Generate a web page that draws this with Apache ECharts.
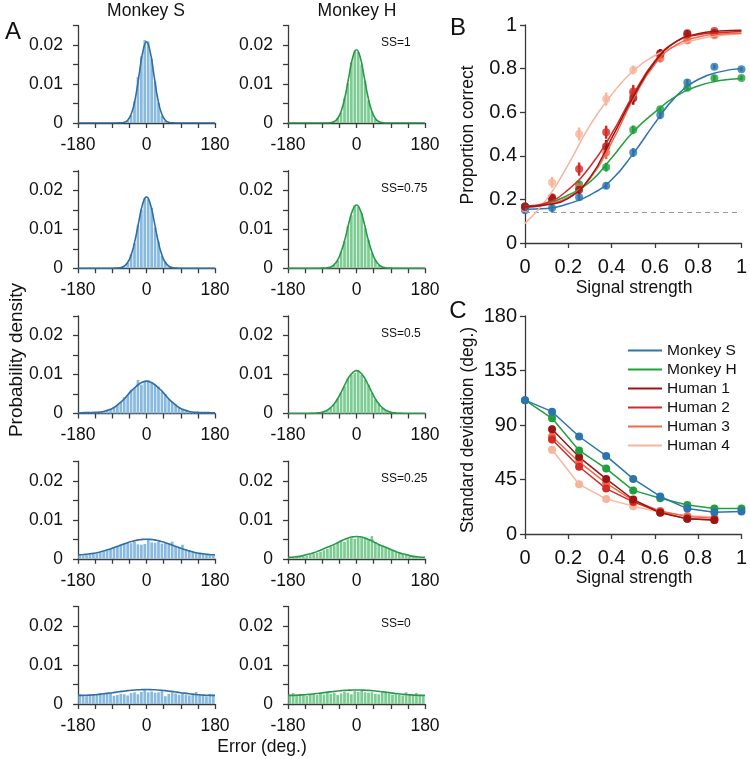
<!DOCTYPE html>
<html><head><meta charset="utf-8">
<script src="https://cdn.jsdelivr.net/npm/echarts@6/dist/echarts.min.js"></script>
<style>html,body{margin:0;padding:0;background:#fff}#c{width:750px;height:759px}</style>
</head><body><div id="c"></div>
<script>
// ---------- Panel A data ----------
const binCenters = [-175.5,-166.5,-157.5,-148.5,-139.5,-130.5,-121.5,-112.5,-103.5,-94.5,-85.5,-76.5,-67.5,-58.5,-49.5,-40.5,-31.5,-22.5,-13.5,-4.5,4.5,13.5,22.5,31.5,40.5,49.5,58.5,67.5,76.5,85.5,94.5,103.5,112.5,121.5,130.5,139.5,148.5,157.5,166.5,175.5];
const curveX = [-180,-170,-160,-150,-140,-130,-120,-110,-100,-90,-80,-70,-60,-50,-40,-30,-20,-10,0,10,20,30,40,50,60,70,80,90,100,110,120,130,140,150,160,170,180];
const xTickLabels = ['-180','0','180'];
const yTickLabels = ['0','0.01','0.02'];
const ssLabels = ['SS=1','SS=0.75','SS=0.5','SS=0.25','SS=0'];

const histS1 = [0,0,0,0,0,0,0,0,0,0, 0,0,0,0.0002,0.0007,0.0020,0.0056,0.0118,0.0171,0.0213, 0.0209,0.0165,0.0106,0.0052,0.0019,0.0006,0.0002,0,0,0, 0,0,0,0,0,0,0,0,0,0];
const histH1 = [0,0,0,0,0,0,0,0,0,0, 0,0,0.0001,0.0004,0.0013,0.0027,0.0063,0.0102,0.0156,0.0186, 0.0182,0.0150,0.0108,0.0058,0.0030,0.0011,0.0004,0.0001,0,0, 0,0,0,0,0,0,0,0,0,0];
const histS2 = [0,0,0,0,0,0,0,0,0,0, 0,0,0.0002,0.0005,0.0014,0.0036,0.0064,0.0110,0.0150,0.0181, 0.0177,0.0155,0.0104,0.0068,0.0032,0.0016,0.0005,0.0002,0,0, 0,0,0,0,0,0,0,0,0,0];
const histH2 = [0,0,0,0,0,0,0,0,0,0, 0,0.0001,0.0003,0.0010,0.0020,0.0043,0.0069,0.0108,0.0136,0.0161, 0.0157,0.0141,0.0103,0.0073,0.0040,0.0022,0.0008,0.0004,0.0001,0, 0,0,0,0,0,0,0,0,0,0];
const histS3 = [0.0002,0.0001,0.0003,0.0002,0.0004,0.0003,0.0005,0.0006,0.0009,0.0011, 0.0017,0.0022,0.0030,0.0042,0.0047,0.0061,0.0066,0.0086,0.0074,0.0082, 0.0085,0.0081,0.0073,0.0069,0.0055,0.0050,0.0038,0.0030,0.0024,0.0015, 0.0011,0.0009,0.0006,0.0004,0.0003,0.0003,0.0002,0.0001,0.0002,0.0001];
const histH3 = [0,0,0,0,0,0,0,0,0.0001,0.0002, 0.0005,0.0008,0.0016,0.0024,0.0039,0.0052,0.0070,0.0090,0.0100,0.0104, 0.0112,0.0099,0.0086,0.0074,0.0053,0.0036,0.0026,0.0014,0.0009,0.0004, 0.0002,0.0001,0,0,0,0,0,0,0,0];
const histS4 = [0.0008,0.0007,0.0009,0.0011,0.0012,0.0013,0.0016,0.0019,0.0022,0.0025, 0.0030,0.0032,0.0037,0.0039,0.0041,0.0040,0.0043,0.0037,0.0036,0.0038, 0.0048,0.0042,0.0041,0.0043,0.0039,0.0040,0.0038,0.0044,0.0032,0.0030, 0.0036,0.0024,0.0022,0.0020,0.0016,0.0015,0.0012,0.0010,0.0009,0.0008];
const histH4 = [0.0004,0.0003,0.0005,0.0004,0.0006,0.0008,0.0010,0.0012,0.0015,0.0018, 0.0022,0.0025,0.0030,0.0034,0.0040,0.0046,0.0043,0.0050,0.0053,0.0051, 0.0055,0.0053,0.0054,0.0050,0.0058,0.0043,0.0037,0.0033,0.0028,0.0026, 0.0022,0.0019,0.0015,0.0012,0.0010,0.0008,0.0006,0.0005,0.0004,0.0003];
const histS5 = [0.0025,0.0023,0.0022,0.0024,0.0023,0.0024,0.0027,0.0025,0.0026,0.0028, 0.0021,0.0023,0.0026,0.0025,0.0022,0.0028,0.0030,0.0025,0.0031,0.0036, 0.0030,0.0032,0.0029,0.0030,0.0034,0.0020,0.0026,0.0030,0.0027,0.0024, 0.0028,0.0024,0.0022,0.0024,0.0031,0.0022,0.0023,0.0020,0.0026,0.0024];
const histH5 = [0.0023,0.0028,0.0024,0.0026,0.0022,0.0021,0.0024,0.0025,0.0023,0.0026, 0.0024,0.0028,0.0026,0.0029,0.0023,0.0027,0.0031,0.0029,0.0025,0.0033, 0.0031,0.0034,0.0030,0.0029,0.0030,0.0026,0.0025,0.0029,0.0028,0.0026, 0.0024,0.0025,0.0024,0.0022,0.0030,0.0023,0.0022,0.0028,0.0024,0.0021];

const curveS1 = [0,0,0,0,0,0,0,0,0,0,0, 0.00002,0.00014,0.00065,0.0023,0.0060,0.0120,0.0181,0.0208,0.0181,0.0120,0.0060,0.0023,0.00065,0.00014,0.00002, 0,0,0,0,0,0,0,0,0,0,0];
const curveH1 = [0,0,0,0,0,0,0,0,0,0, 0.00001,0.00007,0.0003,0.0011,0.0031,0.0068,0.0119,0.0168,0.0188,0.0168,0.0119,0.0068,0.0031,0.0011,0.0003,0.00007,0.00001, 0,0,0,0,0,0,0,0,0,0];
const curveS2 = [0,0,0,0,0,0,0,0,0,0, 0.00002,0.00012,0.00044,0.0014,0.0035,0.0072,0.0121,0.0165,0.0183,0.0165,0.0121,0.0072,0.0035,0.0014,0.00044,0.00012,0.00002, 0,0,0,0,0,0,0,0,0,0];
const curveH2 = [0,0,0,0,0,0,0,0,0, 0.00002,0.00008,0.00027,0.0008,0.0020,0.0043,0.0076,0.0116,0.0149,0.0162,0.0149,0.0116,0.0076,0.0043,0.0020,0.0008,0.00027,0.00008,0.00002, 0,0,0,0,0,0,0,0,0];
const curveS3 = [0.0002,0.00021,0.00022,0.00023,0.00027,0.0003,0.0004,0.0006,0.0009,0.0013,0.0019,0.0027,0.0036,0.0047,0.0058,0.0067,0.0075,0.0081,0.0083,0.0081,0.0075,0.0067,0.0058,0.0047,0.0036,0.0027,0.0019,0.0013,0.0009,0.0006,0.0004,0.0003,0.00027,0.00023,0.00022,0.00021,0.0002];
const curveH3 = [0,0,0,0,0,0, 0.00002,0.00006,0.00015,0.00033,0.0007,0.0013,0.0023,0.0037,0.0055,0.0075,0.0093,0.0105,0.0110,0.0105,0.0093,0.0075,0.0055,0.0037,0.0023,0.0013,0.0007,0.00033,0.00015,0.00006,0.00002, 0,0,0,0,0,0];
const curveS4 = [0.0010,0.00104,0.00112,0.00124,0.00138,0.00155,0.0018,0.00205,0.00235,0.0027,0.00305,0.0034,0.00375,0.0041,0.0044,0.00465,0.00484,0.00496,0.0050,0.00496,0.00484,0.00465,0.0044,0.0041,0.00375,0.0034,0.00305,0.0027,0.00235,0.00205,0.0018,0.00155,0.00138,0.00124,0.00112,0.00104,0.0010];
const curveH4 = [0.0004,0.0004,0.0005,0.0006,0.0008,0.0011,0.0013,0.0016,0.0020,0.0024,0.0028,0.0032,0.0036,0.0041,0.0046,0.0050,0.0054,0.0056,0.0057,0.0056,0.0054,0.0050,0.0046,0.0041,0.0036,0.0032,0.0028,0.0024,0.0020,0.0016,0.0013,0.0011,0.0008,0.0006,0.0005,0.0004,0.0004];
const curveS5 = [0.0022,0.00221,0.00224,0.00228,0.00235,0.00243,0.00253,0.00265,0.00278,0.0029,0.00305,0.00318,0.0033,0.00342,0.00352,0.0036,0.00365,0.00369,0.0037,0.00369,0.00365,0.0036,0.00352,0.00342,0.0033,0.00318,0.00305,0.0029,0.00278,0.00265,0.00253,0.00243,0.00235,0.00228,0.00224,0.00221,0.0022];
const curveH5 = [0.0022,0.0022,0.00223,0.00228,0.00235,0.00243,0.00252,0.00262,0.00273,0.00285,0.00298,0.0031,0.00322,0.00333,0.00342,0.0035,0.00355,0.00359,0.0036,0.00359,0.00355,0.0035,0.00342,0.00333,0.00322,0.0031,0.00298,0.00285,0.00273,0.00262,0.00252,0.00243,0.00235,0.00228,0.00223,0.0022,0.0022];

// ---------- Panel B / C data ----------
const subjects = ['Monkey S','Monkey H','Human 1','Human 2','Human 3','Human 4'];
const strengths = [0, 0.125, 0.25, 0.375, 0.5, 0.625, 0.75, 0.875, 1];
const humanStrengthsB = [0, 0.125, 0.25, 0.375, 0.5, 0.625, 0.75, 0.875];
const humanStrengthsC = [0.125, 0.25, 0.375, 0.5, 0.625, 0.75, 0.875];
const chanceLevel = 0.14;

const pcMonkeyS = [0.150, 0.160, 0.210, 0.263, 0.415, 0.588, 0.736, 0.809, 0.797];
const pcMonkeyH = [0.168, 0.195, 0.270, 0.348, 0.519, 0.614, 0.712, 0.756, 0.757];
const pcHuman1 = [0.168, 0.205, 0.244, 0.443, 0.664, 0.870, 0.962, 0.962];
const pcHuman2 = [0.165, 0.210, 0.339, 0.508, 0.695, 0.866, 0.955, 0.972];
const pcHuman3 = [0.165, 0.200, 0.255, 0.415, 0.684, 0.848, 0.930, 0.955];
const pcHuman4 = [0.160, 0.278, 0.500, 0.660, 0.794, 0.860, 0.930, 0.952];
const pcErrMonkeyS = [0.015, 0.02, 0.015, 0.015, 0.02, 0.02, 0.015, 0.01, 0.01];
const pcErrMonkeyH = [0.01, 0.01, 0.015, 0.02, 0.02, 0.01, 0.01, 0.015, 0.01];
const pcErrHuman1 = [0.01, 0.01, 0.02, 0.03, 0.03, 0.02, 0.015, 0.015];
const pcErrHuman2 = [0.01, 0.015, 0.03, 0.03, 0.03, 0.02, 0.015, 0.01];
const pcErrHuman3 = [0.01, 0.015, 0.02, 0.03, 0.03, 0.02, 0.015, 0.015];
const pcErrHuman4 = [0.01, 0.025, 0.03, 0.03, 0.02, 0.015, 0.015, 0.015];

const fitX = [0, 0.1, 0.2, 0.3, 0.4, 0.5, 0.6, 0.7, 0.8, 0.9, 1];
const fitMonkeyS = [0.155, 0.158, 0.18, 0.22, 0.29, 0.41, 0.55, 0.675, 0.75, 0.785, 0.80];
const fitMonkeyH = [0.165, 0.18, 0.22, 0.28, 0.39, 0.51, 0.60, 0.675, 0.72, 0.745, 0.755];
const fitHuman1 = [0.165, 0.175, 0.205, 0.30, 0.48, 0.67, 0.83, 0.925, 0.96, 0.972, 0.976];
const fitHuman2 = [0.17, 0.185, 0.245, 0.35, 0.50, 0.68, 0.835, 0.925, 0.955, 0.965, 0.97];
const fitHuman3 = [0.165, 0.178, 0.21, 0.295, 0.46, 0.66, 0.82, 0.91, 0.945, 0.958, 0.962];
const fitHuman4 = [0.09, 0.2, 0.36, 0.54, 0.68, 0.79, 0.86, 0.905, 0.935, 0.952, 0.96];

const sdMonkeyS = [110.5, 101, 80.5, 64.5, 45.5, 31, 21, 18, 18.5];
const sdMonkeyH = [110.5, 95.5, 69, 54, 36, 29.5, 24, 21, 21];
const sdHuman1 = [86.5, 63.5, 45.5, 28.5, 17.5, 12.5, 11.5];
const sdHuman2 = [78, 55.5, 37.5, 26.5, 18, 12.5, 11.5];
const sdHuman3 = [80.5, 59.5, 42, 27.5, 19, 14.5, 13];
const sdHuman4 = [69.5, 41, 29, 23, 18, 15, 14];
const sdErrMonkeyS = [1, 3, 2, 1.5, 1.5, 1.5, 1, 1, 1];
const sdErrMonkeyH = [1, 3, 1.5, 1.5, 1, 1, 1, 1, 1];
const sdErrHuman = [3, 2, 2, 1.5, 1, 1, 1];

// ---------- Styling ----------
const FONT = '"Liberation Sans", Arial, Helvetica, sans-serif';
const AXC = '#3a3a3a';
const TXT = '#111';
const colors = {
  'Monkey S': '#2c74b0', 'Monkey H': '#22a03e',
  'Human 1': '#9c1414', 'Human 2': '#d42b27', 'Human 3': '#ef6a4d', 'Human 4': '#f7b59b'
};
const barColor = ['#88b9de', '#7ccc93'];
const curveColor = ['#2f6ea6', '#2a9848'];

const chart = echarts.init(document.getElementById('c'), null, {renderer: 'canvas'});
const grids = [], xAxes = [], yAxes = [], series = [], graphics = [];

const rowBase = [123, 268.25, 413.5, 558.75, 704];
const colLeft = [78, 288];
const hH = 97.5, hW = 137;
const histRows = [
  [histS1, curveS1, histH1, curveH1],
  [histS2, curveS2, histH2, curveH2],
  [histS3, curveS3, histH3, curveH3],
  [histS4, curveS4, histH4, curveH4],
  [histS5, curveS5, histH5, curveH5]
];
const near = (a, b) => Math.abs(a - b) < 1e-9;
const axLine = {show: true, onZero: false, lineStyle: {color: AXC, width: 1.3}};
const axTick = {show: true, length: 5, lineStyle: {color: AXC, width: 1.3}};

for (let r = 0; r < 5; r++) {
  for (let c = 0; c < 2; c++) {
    const idx = grids.length;
    const hist = histRows[r][c * 2], curve = histRows[r][c * 2 + 1];
    grids.push({left: colLeft[c], top: rowBase[r] - hH, width: hW, height: hH});
    xAxes.push({
      gridIndex: idx, type: 'value', min: -180, max: 180, interval: 45,
      axisLine: axLine, axisTick: axTick, splitLine: {show: false},
      axisLabel: {margin: 13, fontSize: 17.5, fontFamily: FONT, color: TXT,
        formatter: v => (near(v, -180) ? xTickLabels[0] : near(v, 0) ? xTickLabels[1] : near(v, 180) ? xTickLabels[2] : '')}
    });
    yAxes.push({
      gridIndex: idx, type: 'value', min: 0, max: 0.025, interval: 0.005,
      axisLine: axLine, axisTick: axTick, splitLine: {show: false},
      axisLabel: {margin: 15, fontSize: 17.5, fontFamily: FONT, color: TXT,
        formatter: v => (near(v, 0) ? yTickLabels[0] : near(v, 0.01) ? yTickLabels[1] : near(v, 0.02) ? yTickLabels[2] : '')}
    });
    series.push({
      type: 'bar', xAxisIndex: idx, yAxisIndex: idx, silent: true, animation: false,
      barWidth: 2.7, itemStyle: {color: barColor[c]},
      data: binCenters.map((x, i) => [x, hist[i]])
    });
    series.push({
      type: 'line', xAxisIndex: idx, yAxisIndex: idx, silent: true, animation: false,
      smooth: true, showSymbol: false, lineStyle: {color: curveColor[c], width: 1.6},
      data: curveX.map((x, i) => [x, curve[i]])
    });
  }
  graphics.push({type: 'text', x: 381, y: rowBase[r] - hH + 17.5,
    style: {text: ssLabels[r], fontSize: 12, fontFamily: FONT, fill: TXT, align: 'left', verticalAlign: 'middle'}});
}

// ---------- Panel B / C grids ----------
const gB = grids.length;
grids.push({left: 525, top: 25, width: 218, height: 218});
const gC = grids.length;
grids.push({left: 525, top: 316, width: 218, height: 218});

function stdX(gi) {
  return {gridIndex: gi, type: 'value', min: 0, max: 1, interval: 0.2,
    axisLine: axLine, axisTick: axTick, splitLine: {show: false},
    axisLabel: {margin: 14, fontSize: 20, fontFamily: FONT, color: TXT}};
}
xAxes.push(stdX(gB));
yAxes.push({gridIndex: gB, type: 'value', min: 0, max: 1, interval: 0.2,
  axisLine: axLine, axisTick: axTick, splitLine: {show: false},
  axisLabel: {margin: 8, fontSize: 20, fontFamily: FONT, color: TXT}});
xAxes.push(stdX(gC));
yAxes.push({gridIndex: gC, type: 'value', min: 0, max: 180, interval: 45,
  axisLine: axLine, axisTick: axTick, splitLine: {show: false},
  axisLabel: {margin: 8, fontSize: 20, fontFamily: FONT, color: TXT}});

function errSeries(gi, xs, ys, es, color, w) {
  return {
    type: 'custom', xAxisIndex: gi, yAxisIndex: gi, silent: true, animation: false,
    data: xs.map((x, i) => [x, ys[i], es[i]]),
    renderItem: (params, api) => {
      const x = api.value(0), y = api.value(1), e = api.value(2);
      const p1 = api.coord([x, y - e]), p2 = api.coord([x, y + e]);
      return {type: 'line', shape: {x1: p1[0], y1: p1[1], x2: p2[0], y2: p2[1]},
        style: {stroke: color, lineWidth: w}};
    }
  };
}

// chance line
series.push({type: 'line', xAxisIndex: gB, yAxisIndex: gB, silent: true, animation: false,
  showSymbol: false, lineStyle: {color: '#999', width: 1.2, type: [5, 4]},
  data: [[0, chanceLevel], [1, chanceLevel]]});

const bSets = [
  ['Monkey S', strengths, pcMonkeyS, pcErrMonkeyS, fitMonkeyS],
  ['Monkey H', strengths, pcMonkeyH, pcErrMonkeyH, fitMonkeyH],
  ['Human 4', humanStrengthsB, pcHuman4, pcErrHuman4, fitHuman4],
  ['Human 3', humanStrengthsB, pcHuman3, pcErrHuman3, fitHuman3],
  ['Human 2', humanStrengthsB, pcHuman2, pcErrHuman2, fitHuman2],
  ['Human 1', humanStrengthsB, pcHuman1, pcErrHuman1, fitHuman1]
];
bSets.forEach(([name, xs, ys, es, fit]) => {
  const col = colors[name];
  series.push({type: 'line', name: 'fit ' + name, xAxisIndex: gB, yAxisIndex: gB, silent: true, animation: false,
    smooth: true, showSymbol: false, lineStyle: {color: col, width: 1.5},
    data: fitX.map((x, i) => [x, fit[i]])});
});
bSets.forEach(([name, xs, ys, es]) => {
  const col = colors[name];
  series.push(errSeries(gB, xs, ys, es, col, 2.5));
  series.push({type: 'scatter', name: 'pts ' + name, xAxisIndex: gB, yAxisIndex: gB, silent: true, animation: false,
    symbol: 'circle', symbolSize: 8, itemStyle: {color: col},
    data: xs.map((x, i) => [x, ys[i]])});
});

// ---------- Panel C ----------
const cSets = [
  ['Monkey S', strengths, sdMonkeyS, sdErrMonkeyS],
  ['Monkey H', strengths, sdMonkeyH, sdErrMonkeyH],
  ['Human 1', humanStrengthsC, sdHuman1, sdErrHuman],
  ['Human 2', humanStrengthsC, sdHuman2, sdErrHuman],
  ['Human 3', humanStrengthsC, sdHuman3, sdErrHuman],
  ['Human 4', humanStrengthsC, sdHuman4, sdErrHuman]
];
[5, 4, 3, 2, 1, 0].forEach(k => {
  const [name, xs, ys, es] = cSets[k];
  const col = colors[name];
  series.push(errSeries(gC, xs, ys, es, col, 2.5));
  series.push({type: 'line', name: name, xAxisIndex: gC, yAxisIndex: gC, silent: true, animation: false,
    color: col, symbol: 'circle', symbolSize: 8, showSymbol: true,
    lineStyle: {color: col, width: 1.5}, itemStyle: {color: col},
    data: xs.map((x, i) => [x, ys[i]])});
});

// ---------- Text ----------
function txt(t, x, y, size, rot) {
  return {type: 'text', x: x, y: y, rotation: rot || 0,
    style: {text: t, fontSize: size, fontFamily: FONT, fill: TXT, align: 'center', verticalAlign: 'middle'}};
}
graphics.push(txt('A', 13, 32, 24));
graphics.push(txt('B', 458, 28, 24));
graphics.push(txt('C', 458, 311, 24));
graphics.push(txt('Monkey S', 146, 11, 17.5));
graphics.push(txt('Monkey H', 357, 11, 17.5));
graphics.push(txt('Probability density', 17, 360, 19));
graphics[graphics.length - 1].rotation = Math.PI / 2;
graphics.push(txt('Error (deg.)', 262, 747, 17.5));
graphics.push(txt('Signal strength', 634, 288, 17.5));
graphics.push(txt('Signal strength', 634, 578, 17.5));
graphics.push(txt('Proportion correct', 468, 135, 17.5, Math.PI / 2));
graphics.push(txt('Standard devidation (deg.)', 468, 430, 17.5, Math.PI / 2));

chart.setOption({
  animation: false,
  backgroundColor: '#fff',
  grid: grids,
  xAxis: xAxes,
  yAxis: yAxes,
  legend: {
    data: subjects, orient: 'vertical', left: 628, top: 341,
    icon: 'rect', itemWidth: 34, itemHeight: 2, itemGap: 0, padding: 0,
    selectedMode: false,
    textStyle: {fontSize: 15.5, fontFamily: FONT, color: TXT, lineHeight: 19, padding: [0, 0, 0, 0]}
  },
  series: series,
  graphic: graphics
});
</script>
</body></html>
